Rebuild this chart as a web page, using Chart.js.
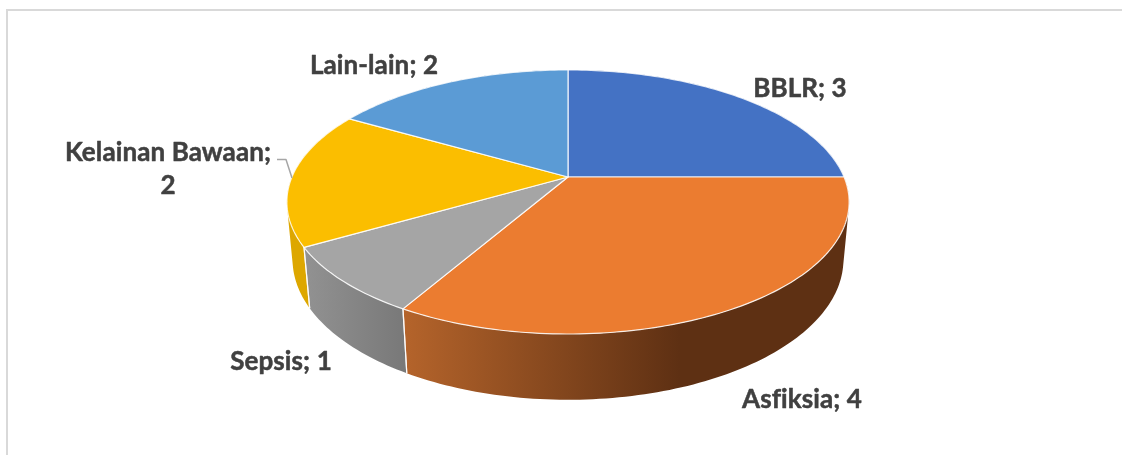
<!DOCTYPE html>
<html>
<head>
<meta charset="utf-8">
<title>Pie</title>
<script src="https://cdn.jsdelivr.net/npm/chart.js@4"></script>
<style>
    html, body { margin: 0; padding: 0; background: #fff; overflow: hidden; }
    #frame { position: absolute; left: 6px; top: 9px; width: 1116px; height: 446px;
             border-left: 2px solid #d9d9d9; border-top: 2px solid #d9d9d9; box-sizing: border-box; }
    #pie { position: absolute; left: 0; top: 0; }
</style>
</head>
<body>
<div id="frame"></div>
<canvas id="pie" width="1122" height="455"></canvas>
<script>
// Chart data
const categories = ['BBLR', 'Asfiksia', 'Sepsis', 'Kelainan Bawaan', 'Lain-lain'];
const values = [3, 4, 1, 2, 2];

// Slice colours, top face and side wall (light end, dark end)
const topColors = ['#4472C4', '#EB7C30', '#A5A5A5', '#FBBE00', '#5B9BD5'];
const wallLight = ['#2F5597', '#B5642B', '#929292', '#DDA700', '#3F79AE'];
const wallDark = ['#2F5597', '#5E3013', '#797979', '#DDA700', '#3F79AE'];
const wallDarkAt = [1, 0.62, 1, 1, 1];

// Label anchors: centre x, baseline y
const labelX = [800, 802, 281, 168, 374];
const labelY = [97, 408, 370, 161, 74];
const labelFont = 'bold 26px Lato, "Open Sans", sans-serif';

// Perspective of the tilted disc, relative to the radius Chart.js gives the arcs
const widthRatio = 2.58, heightRatio = 1.19, depthRatio = 0.54;
const tiltK = 0.189, depthK = 0.02;

function project(arc, angle, z) {
    const u = Math.cos(angle), v = -Math.sin(angle);
    const w = 1 + tiltK * v + depthK * z;
    const R = arc.outerRadius;
    return {
        x: arc.x + R * widthRatio * u / w,
        y: arc.y + R * (-heightRatio * v + depthRatio * z) / w
    };
}

function rimAngles(arc) {
    const steps = Math.max(8, Math.ceil((arc.endAngle - arc.startAngle) / 0.02));
    const out = [];
    for (let i = 0; i <= steps; i++) {
        out.push(arc.startAngle + (arc.endAngle - arc.startAngle) * i / steps);
    }
    return out;
}

function drawWall(ctx, arc, i) {
    const angles = rimAngles(arc);
    const xs = angles.map(a => project(arc, a, 0).x);
    const grad = ctx.createLinearGradient(Math.min(...xs), 0, Math.max(...xs), 0);
    grad.addColorStop(0, wallLight[i]);
    grad.addColorStop(wallDarkAt[i], wallDark[i]);
    grad.addColorStop(1, wallDark[i]);
    ctx.fillStyle = grad;
    // All quads go in one path with the same winding, so there are no seams
    ctx.beginPath();
    for (let k = 0; k < angles.length - 1; k++) {
        let q = [project(arc, angles[k], 0), project(arc, angles[k + 1], 0),
                 project(arc, angles[k + 1], 1), project(arc, angles[k], 1)];
        let area = 0;
        q.forEach((p, n) => {
            const r = q[(n + 1) % 4];
            area += p.x * r.y - r.x * p.y;
        });
        if (area < 0) q = q.reverse();
        ctx.moveTo(q[0].x, q[0].y);
        ctx.lineTo(q[1].x, q[1].y);
        ctx.lineTo(q[2].x, q[2].y);
        ctx.lineTo(q[3].x, q[3].y);
        ctx.closePath();
    }
    ctx.fill();
}

function drawWallEdges(ctx, arc) {
    ctx.strokeStyle = 'rgba(255,255,255,0.85)';
    ctx.lineWidth = 1.2;
    [arc.startAngle, arc.endAngle].forEach(a => {
        // Only the edges on the front of the disc are seen
        if (Math.sin(a) < -0.05) return;
        const p = project(arc, a, 0), q = project(arc, a, 1);
        ctx.beginPath();
        ctx.moveTo(p.x, p.y);
        ctx.lineTo(q.x, q.y);
        ctx.stroke();
    });
}

function drawTop(ctx, arc, i) {
    ctx.beginPath();
    ctx.moveTo(arc.x, arc.y);
    rimAngles(arc).forEach(a => {
        const p = project(arc, a, 0);
        ctx.lineTo(p.x, p.y);
    });
    ctx.closePath();
    ctx.fillStyle = arc.options.backgroundColor;
    ctx.fill();
    ctx.strokeStyle = 'rgba(255,255,255,0.85)';
    ctx.lineWidth = 1.2;
    ctx.lineJoin = 'round';
    ctx.stroke();
}

function putText(ctx, text, x, y) {
    ctx.fillText(text, x, y);
    ctx.strokeText(text, x, y);
}

function drawLabels(ctx) {
    ctx.font = labelFont;
    ctx.letterSpacing = '0.1px';
    ctx.fillStyle = '#404040';
    ctx.strokeStyle = '#404040';
    ctx.lineWidth = 0.5;
    ctx.textAlign = 'center';
    ctx.textBaseline = 'alphabetic';
    categories.forEach((name, i) => {
        if (i === 3) {
            putText(ctx, name + ';', labelX[i], labelY[i]);
            putText(ctx, String(values[i]), labelX[i], labelY[i] + 33);
        } else {
            putText(ctx, name + '; ' + values[i], labelX[i], labelY[i]);
        }
    });
    // Leader line of the Kelainan Bawaan label
    ctx.strokeStyle = '#a6a6a6';
    ctx.lineWidth = 1.5;
    ctx.beginPath();
    ctx.moveTo(277, 159.5);
    ctx.lineTo(286, 159.5);
    ctx.lineTo(292, 178);
    ctx.stroke();
}

// Chart.js works out the arcs, this plugin paints them as the tilted 3D disc
const tiltedPie = {
    id: 'tiltedPie',
    beforeDatasetsDraw(chart) {
        const ctx = chart.ctx;
        const arcs = chart.getDatasetMeta(0).data;
        // Back to front so nearer walls cover farther ones
        const order = arcs.map((a, i) => i).sort((p, q) =>
            Math.sin((arcs[p].startAngle + arcs[p].endAngle) / 2) -
            Math.sin((arcs[q].startAngle + arcs[q].endAngle) / 2));
        ctx.save();
        order.forEach(i => drawWall(ctx, arcs[i], i));
        arcs.forEach(arc => drawWallEdges(ctx, arc));
        arcs.forEach((arc, i) => drawTop(ctx, arc, i));
        drawLabels(ctx);
        ctx.restore();
        return false;
    }
};

new Chart(document.getElementById('pie'), {
    type: 'pie',
    data: {
        labels: categories,
        datasets: [{ data: values, backgroundColor: topColors, borderWidth: 0 }]
    },
    options: {
        responsive: false,
        animation: false,
        // Puts the pie centre where the slices meet in the picture
        layout: { padding: { left: 292, right: 278, top: 70, bottom: 171 } },
        plugins: { legend: { display: false }, tooltip: { enabled: false } }
    },
    plugins: [tiltedPie]
});
</script>
</body>
</html>
